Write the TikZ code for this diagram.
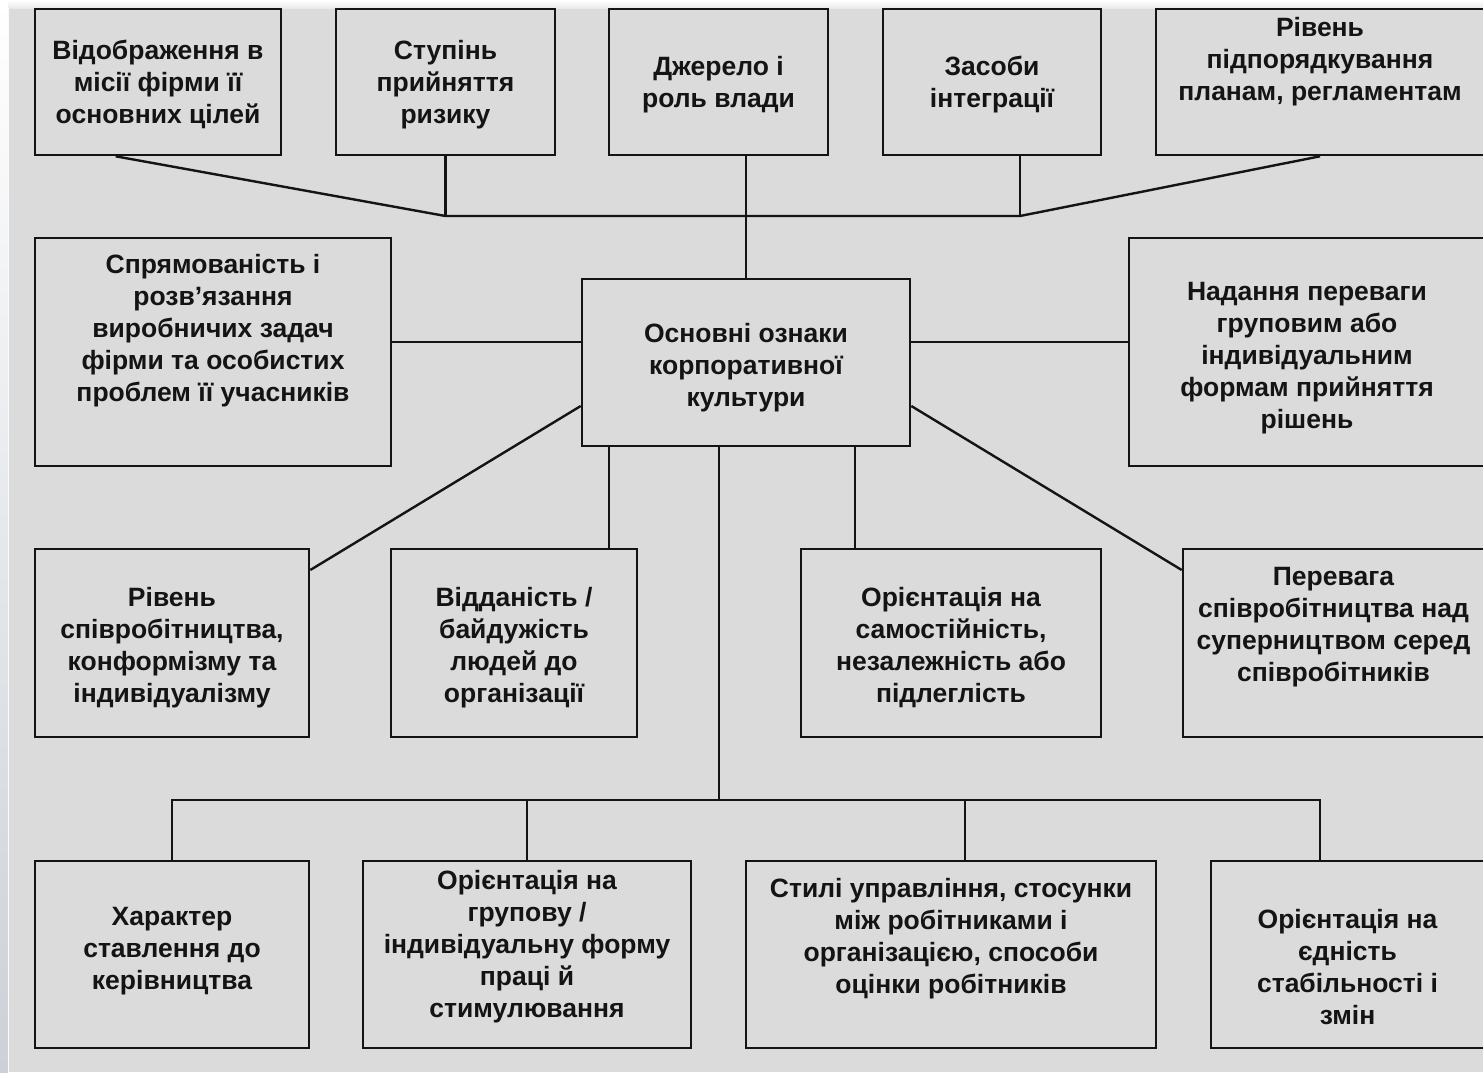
\documentclass[tikz,border=0pt]{standalone}
\usepackage{fontspec}
\setmainfont{Liberation Sans}
\usepackage{xcolor}
\definecolor{bgGrey}{HTML}{DBDBDB}
\definecolor{edgeBlue}{HTML}{CCD1D7}
\definecolor{inkBlack}{HTML}{141414}

\begin{document}
\begin{tikzpicture}[x=1pt,y=-1pt,
  box/.style={draw=inkBlack, fill=bgGrey, line width=2.6pt, inner sep=0pt},
  size/.style 2 args={minimum width=#1pt, minimum height=#2pt},
  txt/.style={align=center, inner sep=0pt, text=inkBlack, yshift=-2.5pt,
              font=\bfseries\fontsize{26.5}{32}\selectfont},
  link/.style={draw=inkBlack, line width=2.4pt}]

  % background
  \useasboundingbox (0,0) rectangle (1483,1072);
  \fill[bgGrey] (0,0) rectangle (1483,1072);
  \shade[top color=white, bottom color=bgGrey!60!white] (0,0) rectangle (1483,8);
  \shade[top color=white, bottom color=edgeBlue] (0,0) rectangle (8,1072);
  \draw[white!85!bgGrey, line width=1pt] (8.5,8) -- (8.5,1072);

  % top row
  \node[box, size={246}{146}, label={[txt]center:{Відображення в\\місії фірми її\\основних цілей}}] (t1) at (158,82) {};
  \node[box, size={219}{146}, label={[txt]center:{Ступінь\\прийняття\\ризику}}] (t2) at (445.5,82) {};
  \node[box, size={219}{146}, label={[txt]center:{Джерело і\\роль влади}}] (t3) at (718.5,82) {};
  \node[box, size={218}{146}, label={[txt]center:{Засоби\\інтеграції}}] (t4) at (992,82) {};
  \node[box, size={328}{146}, label={[txt, yshift=23pt]center:{Рівень\\підпорядкування\\планам, регламентам}}] (t5) at (1320,82) {};

  % middle row
  \node[box, size={356}{228}, label={[txt, yshift=24pt]center:{Спрямованість і\\розв’язання\\виробничих задач\\фірми та особистих\\проблем її учасників}}] (m1) at (213,352) {};
  \node[box, size={328}{167}, label={[txt, yshift=-3pt]center:{Основні ознаки\\корпоративної\\культури}}] (c0) at (746,362.5) {};
  \node[box, size={356}{228}, label={[txt, yshift=-4pt]center:{Надання переваги\\груповим або\\індивідуальним\\формам прийняття\\рішень}}] (m2) at (1307,352) {};

  % third row
  \node[box, size={274}{188}, label={[txt, yshift=-2pt]center:{Рівень\\співробітництва,\\конформізму та\\індивідуалізму}}] (r1) at (172,643) {};
  \node[box, size={246}{188}, label={[txt, yshift=-2pt]center:{Відданість /\\байдужість\\людей до\\організації}}] (r2) at (514,643) {};
  \node[box, size={300}{188}, label={[txt, yshift=-2pt]center:{Орієнтація на\\самостійність,\\незалежність або\\підлеглість}}] (r3) at (951,643) {};
  \node[box, size={301}{188}, label={[txt, yshift=18pt]center:{Перевага\\співробітництва над\\суперництвом серед\\співробітників}}] (r4) at (1333.5,643) {};

  % bottom row
  \node[box, size={274}{187}, label={[txt, yshift=6pt]center:{Характер\\ставлення до\\керівництва}}] (b1) at (172,954.5) {};
  \node[box, size={328}{187}, label={[txt, yshift=10pt]center:{Орієнтація на\\групову /\\індивідуальну форму\\праці й\\стимулювання}}] (b2) at (527,954.5) {};
  \node[box, size={410}{187}, label={[txt, yshift=18pt]center:{Стилі управління, стосунки\\між робітниками і\\організацією, способи\\оцінки робітників}}] (b3) at (951,954.5) {};
  \node[box, size={273}{187}, label={[txt, yshift=-10pt]center:{Орієнтація на\\єдність\\стабільності і\\змін}}] (b4) at (1347.5,954.5) {};

  % upper connectors
  \coordinate (jl) at (445.5,216);
  \coordinate (jr) at (1020,216);
  \draw[link] ([xshift=82pt]t1.south west) -- (jl) -- (jr) -- (t5.south);
  \draw[link] (t2.south) -- (jl);
  \draw[link] (t4.south -| jr) -- (jr);
  \draw[link] (c0.north) -- (c0.north |- t3.south);

  % side connectors
  \draw[link] (m1.east |- 0,342) -- (c0.west |- 0,342);
  \draw[link] (c0.east |- 0,342) -- (m2.west |- 0,342);
  \draw[link] (c0.west |- 0,406) -- (r1.east |- 0,570);
  \draw[link] (c0.east |- 0,406) -- (r4.west |- 0,570);
  \draw[link] (c0.south -| 609,0) -- (r2.north -| 609,0);
  \draw[link] (c0.south -| 855,0) -- (r3.north -| 855,0);

  % lower connectors
  \coordinate (jb) at (719,800);
  \draw[link] (jb |- c0.south) -- (jb);
  \draw[link] (b1.north) -- (b1.north |- jb) -- (1320,800) -- (b4.north -| 1320,0);
  \draw[link] (b2.north) -- (b2.north |- jb);
  \draw[link] (b3.north -| 965,0) -- (965,800);
\end{tikzpicture}
\end{document}
